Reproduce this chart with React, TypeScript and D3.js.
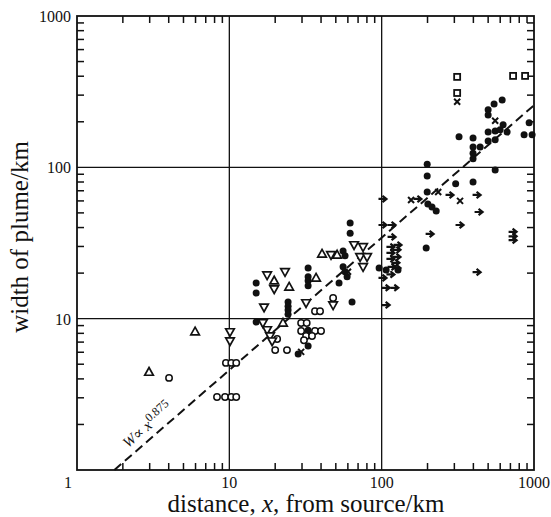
import React from "react";
import * as d3 from "d3";

const W = 551;
const H = 517;
const PLOT = { left: 77, right: 534, top: 16, bottom: 470 };
const FONT = '"Liberation Serif", "DejaVu Serif", "Times New Roman", serif';

const X_TICKS = [1, 10, 100, 1000];
const Y_TICKS = [10, 100, 1000];
const GRID = [10, 100];

// data: [distance km, width km]
const filledDots = [
  [15, 17.2], [15, 14.8], [15, 9.5],
  [24.3, 12.9], [24.3, 12.1], [24.3, 11.4], [24.3, 10.7],
  [32.9, 21.6], [32.9, 18.9], [32.9, 17.8], [32.9, 16.5],
  [55.8, 28.0], [57.5, 26.0], [62.1, 42.9], [62.1, 36.7],
  [55.8, 22.0], [57.5, 20.4], [59.3, 18.9], [52.5, 17.2], [63.9, 12.9],
  [32.9, 8.4], [32.9, 7.7], [28.3, 5.85], [32.9, 6.6],
  [96.2, 21.6], [107, 21.0], [128, 21.0],
  [199, 105], [199, 87.7], [199, 68.7], [201, 57.3], [214, 54.7], [228, 51.5],
  [196, 29.3], [306, 78], [398, 80], [556, 96],
  [322, 159], [398, 156], [398, 136], [398, 124], [398, 114],
  [443, 136], [500, 149], [500, 171], [556, 174], [599, 177], [666, 171],
  [627, 191], [556, 152], [500, 240], [500, 222], [547, 262], [618, 279],
  [861, 164], [972, 164], [929, 197],
];

const openCircles = [
  [4.02, 4.06], [8.3, 3.04], [9.37, 3.04], [10.3, 3.04], [11.1, 3.04],
  [9.5, 5.1], [10.3, 5.1], [11.1, 5.1],
  [20.6, 7.34], [20.0, 6.2], [23.9, 6.2],
  [29.6, 9.37], [32.2, 9.37], [29.6, 8.29], [36.5, 8.29], [40.0, 8.29],
  [31.9, 7.68], [34.9, 7.68], [30.9, 7.2],
  [36.5, 11.2], [39.4, 11.2], [48.0, 13.7],
];

const upTriangles = [
  [2.97, 4.44], [5.96, 8.2], [19.7, 17.8], [24.7, 16.2], [22.5, 9.37],
  [37.1, 18.6], [40.6, 26.8], [51.0, 26.4],
];

const downTriangles = [
  [10.1, 8.17], [10.1, 7.12], [17.7, 19.4], [19.7, 15.7], [23.2, 20.4],
  [16.9, 11.9], [16.6, 9.37], [17.7, 8.42], [18.5, 7.68], [19.1, 7.1],
  [31.9, 12.7], [46.5, 26.4], [65.9, 30.7], [75.5, 29.8], [72.2, 25.6],
  [80.2, 25.6], [75.5, 22.0], [48.0, 12.3],
];

const crosses = [
  [29.6, 6.03], [60.1, 20.4], [235, 68.7], [156, 60.9], [327, 60],
  [313, 271], [556, 203],
];

const squares = [[313, 396], [313, 310], [729, 402], [874, 402]];

const arrows = [
  [102, 61.8], [173, 61.8], [281, 65.7], [423, 65.7], [436, 50.7],
  [327, 41.6], [208, 36.3], [729, 37.5], [729, 35], [729, 33], [423, 20.3],
  [102, 41.6], [117, 41.6],
  [117, 34.7], [128, 30.7], [115, 29.8], [126, 28.5], [115, 27.2], [126, 25.6],
  [115, 24.8], [124, 23.4], [117, 22.0], [126, 21.6], [115, 19.6], [102, 18.6],
  [107, 16.0], [122, 16.0], [107, 12.3],
];

// W ∝ x^0.875
const FIT_COEF = 0.61;
const FIT_EXP = 0.875;

export default function App() {
  const x = d3.scaleLog().domain([1, 1000]).range([PLOT.left, PLOT.right]);
  const y = d3.scaleLog().domain([1, 1000]).range([PLOT.bottom, PLOT.top]);

  const minor: number[] = [];
  [1, 10, 100].forEach((d) => {
    for (let k = 2; k <= 9; k++) minor.push(d * k);
  });

  const x0 = Math.pow(1 / FIT_COEF, 1 / FIT_EXP);
  const fitPts = [x0, 1000].map((v) => [v, FIT_COEF * Math.pow(v, FIT_EXP)]);
  const fitLine = d3
    .line<number[]>()
    .x((d) => x(d[0]))
    .y((d) => y(d[1]))(fitPts);

  const tickLen = 7;
  const txt = { fontFamily: FONT, fill: "#111" };

  // label position along the fit line
  const lx = 2.3;
  const lpx = x(lx) - 4;
  const lpy = y(FIT_COEF * Math.pow(lx, FIT_EXP)) - 6;
  const ang =
    (Math.atan2(y(100) - y(1), x(100 ** (1 / FIT_EXP)) - x(1)) * 180) / Math.PI;

  return (
    <svg
      width={W}
      height={H}
      style={{ position: "absolute", left: 0, top: 0, background: "#fff" }}
    >
      <rect width={W} height={H} fill="#fff" />

      {/* grid */}
      {GRID.map((g) => (
        <g key={"g" + g} stroke="#111" strokeWidth={1.3}>
          <line x1={x(g)} x2={x(g)} y1={PLOT.top} y2={PLOT.bottom} />
          <line x1={PLOT.left} x2={PLOT.right} y1={y(g)} y2={y(g)} />
        </g>
      ))}

      {/* minor ticks on all four sides */}
      {minor.map((m) => (
        <g key={"m" + m} stroke="#111" strokeWidth={1.5}>
          <line x1={x(m)} x2={x(m)} y1={PLOT.bottom} y2={PLOT.bottom - tickLen} />
          <line x1={x(m)} x2={x(m)} y1={PLOT.top} y2={PLOT.top + tickLen} />
          <line x1={PLOT.left} x2={PLOT.left + tickLen} y1={y(m)} y2={y(m)} />
          <line x1={PLOT.right} x2={PLOT.right - tickLen} y1={y(m)} y2={y(m)} />
        </g>
      ))}

      {/* fit line */}
      <path
        d={fitLine || ""}
        fill="none"
        stroke="#111"
        strokeWidth={2}
        strokeDasharray="9 5"
      />
      <text
        transform={`translate(${lpx},${lpy}) rotate(${ang})`}
        fontSize={15}
        style={txt}
      >
        <tspan fontStyle="italic">W</tspan>
        <tspan>∝ </tspan>
        <tspan fontStyle="italic">x</tspan>
        <tspan fontSize={12} dy={-6}>0.875</tspan>
      </text>

      {/* markers */}
      {filledDots.map((d, i) => (
        <circle key={"f" + i} cx={x(d[0])} cy={y(d[1])} r={3.5} fill="#111" />
      ))}
      {openCircles.map((d, i) => (
        <circle
          key={"o" + i}
          cx={x(d[0])}
          cy={y(d[1])}
          r={3.2}
          fill="#fff"
          stroke="#111"
          strokeWidth={1.5}
        />
      ))}
      {upTriangles.map((d, i) => (
        <path
          key={"u" + i}
          transform={`translate(${x(d[0])},${y(d[1])})`}
          d="M0,-4.5L4.3,3.2L-4.3,3.2Z"
          fill="#fff"
          stroke="#111"
          strokeWidth={1.7}
        />
      ))}
      {downTriangles.map((d, i) => (
        <path
          key={"d" + i}
          transform={`translate(${x(d[0])},${y(d[1])})`}
          d="M0,4.5L4.3,-3.2L-4.3,-3.2Z"
          fill="#fff"
          stroke="#111"
          strokeWidth={1.7}
        />
      ))}
      {squares.map((d, i) => (
        <rect
          key={"s" + i}
          x={x(d[0]) - 3}
          y={y(d[1]) - 3}
          width={6}
          height={6}
          fill="#fff"
          stroke="#111"
          strokeWidth={1.8}
        />
      ))}
      {crosses.map((d, i) => (
        <path
          key={"x" + i}
          transform={`translate(${x(d[0])},${y(d[1])})`}
          d="M-3,-3L3,3M-3,3L3,-3"
          stroke="#111"
          strokeWidth={2}
        />
      ))}
      {arrows.map((d, i) => (
        <path
          key={"a" + i}
          transform={`translate(${x(d[0])},${y(d[1])})`}
          d="M-4.5,0L3,0M-0.5,-3.2L3.5,0L-0.5,3.2"
          fill="none"
          stroke="#111"
          strokeWidth={2.2}
        />
      ))}

      {/* frame */}
      <rect
        x={PLOT.left}
        y={PLOT.top}
        width={PLOT.right - PLOT.left}
        height={PLOT.bottom - PLOT.top}
        fill="none"
        stroke="#111"
        strokeWidth={1.8}
      />

      {/* tick labels */}
      {X_TICKS.map((t) => (
        <text
          key={"xt" + t}
          x={t === 1 ? 68 : x(t)}
          y={488}
          textAnchor="middle"
          fontSize={16}
          style={txt}
        >
          {t}
        </text>
      ))}
      {Y_TICKS.map((t) => (
        <text
          key={"yt" + t}
          x={71}
          y={y(t) + 6}
          textAnchor="end"
          fontSize={16}
          style={txt}
        >
          {t}
        </text>
      ))}

      {/* axis titles */}
      <text x={306} y={512} textAnchor="middle" fontSize={25} style={txt}>
        distance, <tspan fontStyle="italic">x</tspan>, from source/km
      </text>
      <text
        transform={`translate(28,${237}) rotate(-90)`}
        textAnchor="middle"
        fontSize={25}
        style={txt}
      >
        width of plume/km
      </text>
    </svg>
  );
}
